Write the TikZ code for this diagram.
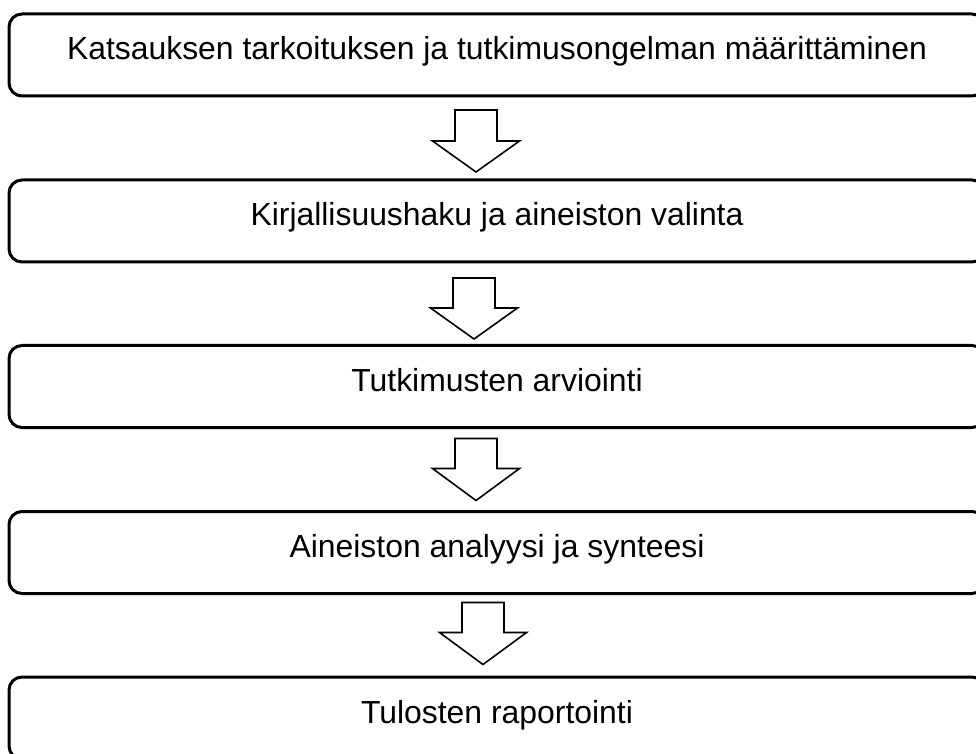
\documentclass[tikz,border=0pt]{standalone}
\usepackage{fontspec}
\setmainfont{Liberation Sans}
\usepackage{tikz}
\usetikzlibrary{calc}

\tikzset{
    stepbox/.style={draw, line width=3pt, rounded corners=13pt,
        minimum width=976pt, minimum height=82pt, outer sep=0pt, inner sep=0pt,
        font=\fontsize{31.9}{37}\selectfont, text height=24pt, text depth=14pt},
    blockarrow/.style={draw, line width=1.6pt, fill=white, line join=miter}
}

\begin{document}
\begin{tikzpicture}[x=1pt, y=1pt]
    \path[use as bounding box, clip] (0,0) rectangle (976,753);
    \node[stepbox] (tarkoitus) at (497, 698) {Katsauksen tarkoituksen ja tutkimusongelman määrittäminen};
    \node[stepbox] (haku) at (497, 532) {Kirjallisuushaku ja aineiston valinta};
    \node[stepbox] (arviointi) at (497, 366.5) {Tutkimusten arviointi};
    \node[stepbox] (analyysi) at (497, 200.5) {Aineiston analyysi ja synteesi};
    \node[stepbox] (raportointi) at (497, 35) {Tulosten raportointi};
    % block arrows between the steps
    \draw[blockarrow] ($(tarkoitus.south)+(-42,-14)$) -- ++(0,-31) -- ++(-22.5,0)
        -- ++(43.5,-31) -- ++(43.5,31) -- ++(-22.5,0) -- ++(0,31) -- cycle;
    \draw[blockarrow] ($(haku.south)+(-44,-16)$) -- ++(0,-30) -- ++(-22.5,0)
        -- ++(43.5,-31) -- ++(43.5,31) -- ++(-22.5,0) -- ++(0,30) -- cycle;
    \draw[blockarrow] ($(arviointi.south)+(-42,-11)$) -- ++(0,-30) -- ++(-22.5,0)
        -- ++(43.5,-32) -- ++(43.5,32) -- ++(-22.5,0) -- ++(0,30) -- cycle;
    \draw[blockarrow] ($(analyysi.south)+(-35,-9)$) -- ++(0,-30) -- ++(-22.5,0)
        -- ++(43.5,-32) -- ++(43.5,32) -- ++(-22.5,0) -- ++(0,30) -- cycle;
\end{tikzpicture}
\end{document}
